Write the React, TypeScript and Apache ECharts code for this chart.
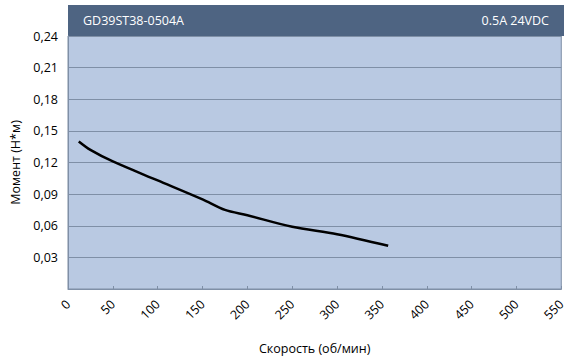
import React, { useEffect, useRef } from "react";
import * as echarts from "echarts";

const speed = [12, 25, 50, 100, 150, 175, 200, 250, 300, 357];
const torque = [0.14, 0.132, 0.121, 0.103, 0.085, 0.075, 0.07, 0.059, 0.052, 0.041];
const title = "GD39ST38-0504A";
const subtitle = "0.5A 24VDC";
const xName = "Скорость (об/мин)";
const yName = "Момент (Н*м)";

export default function App() {
  const ref = useRef<HTMLDivElement>(null);
  useEffect(() => {
    const chart = echarts.init(ref.current!, null, { renderer: "svg" });
    const font = "'Open Sans', 'Noto Sans', sans-serif";
    chart.setOption({
      animation: false,
      textStyle: { fontFamily: font },
      grid: {
        left: 68, right: 4, top: 36, bottom: 67,
        show: true, backgroundColor: "#b9c9e2", borderColor: "#7f8fa6", borderWidth: 1,
      },
      graphic: [
        { type: "rect", shape: { x: 68, y: 5, width: 496, height: 31 }, style: { fill: "#4e6482" } },
        { type: "text", x: 83, y: 20, style: { text: title, fill: "#ffffff", font: `12.5px ${font}`, textVerticalAlign: "middle" } },
        { type: "text", x: 549, y: 20, style: { text: subtitle, fill: "#ffffff", font: `12.5px ${font}`, textAlign: "right", textVerticalAlign: "middle" } },
      ],
      xAxis: {
        type: "value", min: 0, max: 550, interval: 50,
        name: xName, nameLocation: "middle", nameGap: 53,
        nameTextStyle: { color: "#000", fontSize: 12.5, fontFamily: font },
        axisLine: { show: true, lineStyle: { color: "#7f8fa6" } },
        axisTick: { show: true, inside: true, length: 3, lineStyle: { color: "#7f8fa6" } },
        splitLine: { show: false },
        axisLabel: { rotate: 45, color: "#000", fontSize: 12.5, fontFamily: font, margin: 13 },
      },
      yAxis: {
        type: "value", min: 0, max: 0.24, interval: 0.03,
        name: yName, nameLocation: "middle", nameGap: 46,
        nameTextStyle: { color: "#000", fontSize: 12.5, fontFamily: font },
        axisLine: { show: true, lineStyle: { color: "#7f8fa6" } },
        axisTick: { show: false },
        splitLine: { show: true, lineStyle: { color: "#7f8fa6", width: 1 } },
        axisLabel: {
          color: "#000", fontSize: 12.5, fontFamily: font, margin: 10,
          formatter: (v: number) => (v === 0 ? "" : v.toFixed(2).replace(".", ",")),
        },
      },
      series: [
        {
          type: "line", smooth: 0.3, showSymbol: false,
          data: speed.map((s, i) => [s, torque[i]]),
          lineStyle: { color: "#000", width: 2.5 },
        },
      ],
    });
    return () => chart.dispose();
  }, []);
  return <div ref={ref} style={{ width: 568, height: 360, position: "absolute", left: 0, top: 0 }} />;
}
